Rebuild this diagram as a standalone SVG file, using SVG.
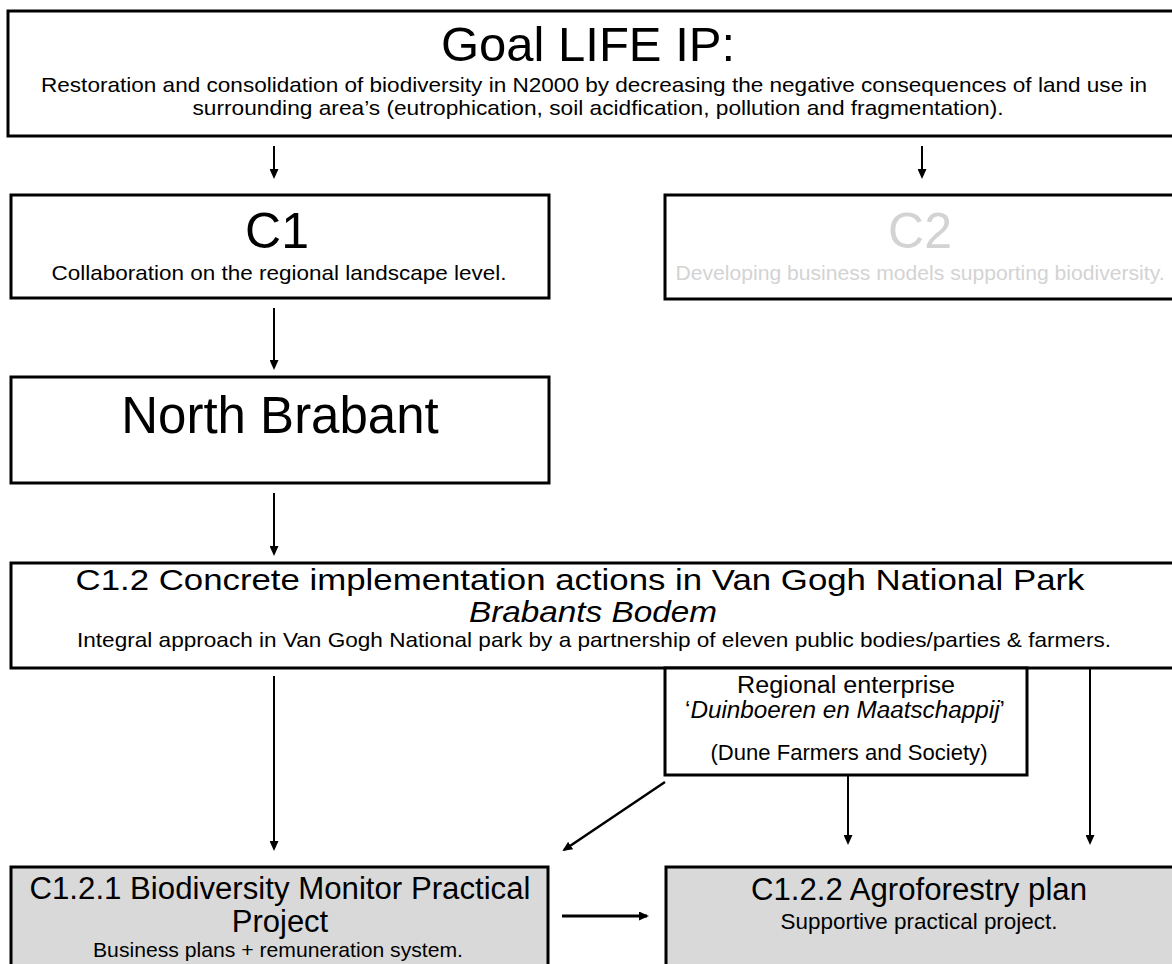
<svg xmlns="http://www.w3.org/2000/svg" width="1172" height="964" viewBox="0 0 1172 964">
<style>
.box{fill:#fff;stroke:#000;stroke-width:3}
.grey{fill:#d9d9d9;stroke:#000;stroke-width:3}
text{font-family:"Liberation Sans",Arial,sans-serif;fill:#000;text-anchor:middle}
.big{font-size:50px}
.mid{font-size:31px}
.faint{fill:#d3d3d3}
.it{font-style:italic}
.conn line{stroke:#000;stroke-width:2}
</style>
<defs>
<marker id="ah" markerUnits="userSpaceOnUse" markerWidth="10" markerHeight="9" refX="8" refY="4.5" orient="auto">
<path d="M0,0 L10,4.5 L0,9 z" fill="#000"/>
</marker>
</defs>
<rect width="1172" height="964" fill="#fff"/>
<g id="goal">
<rect class="box" x="8" y="11" width="1175" height="125"/>
<text x="588" y="61" font-size="49">Goal LIFE IP:</text>
<text x="594" y="92" font-size="21" textLength="1106" lengthAdjust="spacingAndGlyphs">Restoration and consolidation of biodiversity in N2000 by decreasing the negative consequences of land use in</text>
<text x="598" y="115" font-size="21" textLength="811" lengthAdjust="spacingAndGlyphs">surrounding area’s (eutrophication, soil acidfication, pollution and fragmentation).</text>
</g>
<g id="c1">
<rect class="box" x="11" y="195" width="538" height="103"/>
<text class="big" x="277" y="248">C1</text>
<text x="279" y="280" font-size="21" textLength="455" lengthAdjust="spacingAndGlyphs">Collaboration on the regional landscape level.</text>
</g>
<g id="c2">
<rect class="box" x="665" y="195" width="520" height="104"/>
<text class="big faint" x="920" y="248">C2</text>
<text class="faint" x="920" y="280" font-size="21" textLength="489" lengthAdjust="spacingAndGlyphs">Developing business models supporting biodiversity.</text>
</g>
<g id="north-brabant">
<rect class="box" x="11" y="377" width="538" height="106"/>
<text x="280" y="433" font-size="51">North Brabant</text>
</g>
<g id="c1-2">
<rect class="box" x="11" y="563" width="1175" height="105"/>
<text x="580" y="590" font-size="30" textLength="1009" lengthAdjust="spacingAndGlyphs">C1.2 Concrete implementation actions in Van Gogh National Park</text>
<text class="it" x="593" y="622" font-size="29" textLength="248" lengthAdjust="spacingAndGlyphs">Brabants Bodem</text>
<text x="594" y="647" font-size="21" textLength="1034" lengthAdjust="spacingAndGlyphs">Integral approach in Van Gogh National park by a partnership of eleven public bodies/parties &amp; farmers.</text>
</g>
<g id="regional">
<rect class="box" x="665" y="668" width="362" height="107"/>
<text x="846" y="693" font-size="23.5" textLength="218" lengthAdjust="spacingAndGlyphs">Regional enterprise</text>
<text x="845" y="718" font-size="23" textLength="320" lengthAdjust="spacingAndGlyphs">‘<tspan class="it">Duinboeren en Maatschappij</tspan>’</text>
<text x="849" y="760" font-size="21.5" textLength="277" lengthAdjust="spacingAndGlyphs">(Dune Farmers and Society)</text>
</g>
<g id="c1-2-1">
<rect class="grey" x="11" y="867" width="537" height="120"/>
<text class="mid" x="280" y="899" textLength="501" lengthAdjust="spacingAndGlyphs">C1.2.1 Biodiversity Monitor Practical</text>
<text class="mid" x="280" y="932">Project</text>
<text x="278" y="957" font-size="21" textLength="370" lengthAdjust="spacingAndGlyphs">Business plans + remuneration system.</text>
</g>
<g id="c1-2-2">
<rect class="grey" x="666" y="867" width="520" height="120"/>
<text class="mid" x="919" y="900" textLength="336" lengthAdjust="spacingAndGlyphs">C1.2.2 Agroforestry plan</text>
<text x="919" y="929" font-size="21.5" textLength="277" lengthAdjust="spacingAndGlyphs">Supportive practical project.</text>
</g>
<g id="connectors" class="conn">
<line x1="274" y1="146" x2="274" y2="177" marker-end="url(#ah)"/>
<line x1="922" y1="146" x2="922" y2="177" marker-end="url(#ah)"/>
<line x1="274" y1="308" x2="274" y2="368" marker-end="url(#ah)"/>
<line x1="274" y1="493" x2="274" y2="554" marker-end="url(#ah)"/>
<line x1="274" y1="676" x2="274" y2="849" marker-end="url(#ah)"/>
<line x1="665" y1="782" x2="564" y2="850" marker-end="url(#ah)" style="stroke-width:2.5"/>
<line x1="848" y1="776" x2="848" y2="843" marker-end="url(#ah)"/>
<line x1="1090" y1="669" x2="1090" y2="843" marker-end="url(#ah)"/>
<line x1="562" y1="916" x2="647" y2="916" marker-end="url(#ah)" style="stroke-width:3"/>
</g>
</svg>
